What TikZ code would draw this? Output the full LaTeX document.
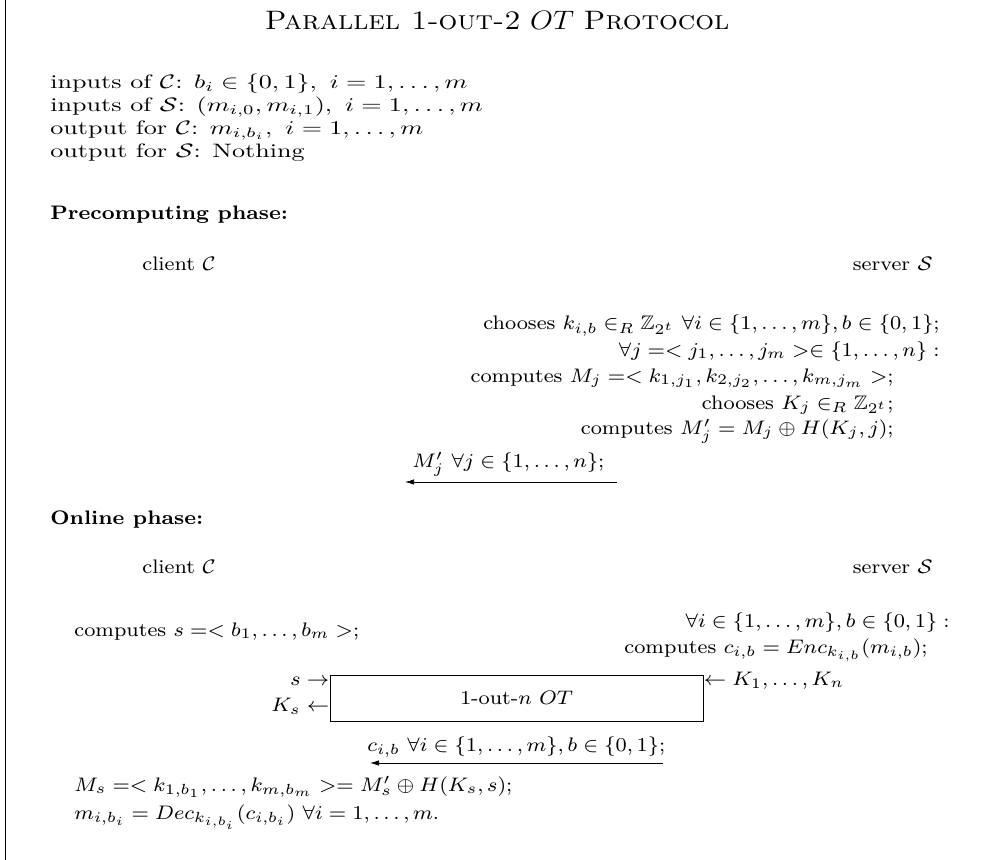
\documentclass[tikz,border=0pt]{standalone}
\usepackage{amsmath,amssymb,graphicx}
\usetikzlibrary{arrows.meta}
\newcommand{\mtx}[1]{\scalebox{1.45}[1.08]{#1}}
\newcommand{\ptx}[1]{\scalebox{1.46}[1.36]{#1}}
\tikzset{
  maintext/.style={anchor=base west,inner sep=0pt,font=\normalsize},
  phase/.style={anchor=base west,inner sep=0pt,font=\footnotesize\bfseries},
  ptext/.style={inner sep=0pt,font=\footnotesize},
  pright/.style={ptext,anchor=base east},
  pleft/.style={ptext,anchor=base west},
  msg/.style={draw,line width=0.4pt,-{Latex[length=5pt,width=3pt]}},
  otbox/.style={draw,line width=0.5pt,minimum width=207.2pt,minimum height=25.6pt,inner sep=0pt,font=\footnotesize}
}
\begin{document}
\begin{tikzpicture}[x=0.5556pt,y=-0.5556pt]
\useasboundingbox (0,0) rectangle (990,860);
\coordinate (bt) at (5.5,0);
\coordinate (bb) at (5.5,860);
\draw[line width=0.6pt] (bt) -- (bb);
\node[anchor=base,inner sep=0pt,font=\Large] (title) at (497,30) {\scalebox{1.14}[1.03]{\textsc{Parallel 1-out-2} $OT$ \textsc{Protocol}}};
\node[maintext] (in1) at (50,89) {\mtx{inputs of $\mathcal{C}$: $b_i\in\{0,1\},\ i=1,\ldots,m$}};
\node[maintext] (in2) at (50,112) {\mtx{inputs of $\mathcal{S}$: $(m_{i,0},m_{i,1}),\ i=1,\ldots,m$}};
\node[maintext] (out1) at (50,135) {\mtx{output for $\mathcal{C}$: $m_{i,b_i},\ i=1,\ldots,m$}};
\node[maintext] (out2) at (50,158) {\mtx{output for $\mathcal{S}$: Nothing}};
\node[phase] (pre) at (50,220) {\ptx{Precomputing phase:}};
\node[pleft] (cl1) at (142,271) {\ptx{client $\mathcal{C}$}};
\node[pright] (sv1) at (933,271) {\ptx{server $\mathcal{S}$}};
\node[pright] (p1) at (940,330) {\ptx{chooses $k_{i,b}\in_R\mathbb{Z}_{2^t}\ \forall i\in\{1,\ldots,m\},b\in\{0,1\}$;}};
\node[pright] (p2) at (940,356) {\ptx{$\forall j=<j_1,\ldots,j_m>\in\{1,\ldots,n\}:$}};
\node[pright] (p3) at (894,382) {\ptx{computes $M_j=<k_{1,j_1},k_{2,j_2},\ldots,k_{m,j_m}>$;}};
\node[pright] (p4) at (894,409) {\ptx{chooses $K_j\in_R\mathbb{Z}_{2^t}$;}};
\node[pright] (p5) at (894,434) {\ptx{computes $M'_j=M_j\oplus H(K_j,j)$;}};
\node[pleft] (m1) at (412,467) {\ptx{$M'_j\ \forall j\in\{1,\ldots,n\}$;}};
\coordinate (a1s) at (617,482);
\coordinate (a1e) at (405,482);
\draw[msg] (a1s) -- (a1e);
\node[phase] (onl) at (50,524) {\ptx{Online phase:}};
\node[pleft] (cl2) at (142,573) {\ptx{client $\mathcal{C}$}};
\node[pright] (sv2) at (933,573) {\ptx{server $\mathcal{S}$}};
\node[pright] (q1) at (950,627) {\ptx{$\forall i\in\{1,\ldots,m\},b\in\{0,1\}:$}};
\node[pleft] (q2) at (74,636) {\ptx{computes $s=<b_1,\ldots,b_m>$;}};
\node[pright] (q3) at (928,653) {\ptx{computes $c_{i,b}=Enc_{k_{i,b}}(m_{i,b})$;}};
\node[otbox] (ot) at (516.5,698) {\ptx{1-out-$n$ $OT$}};
\node[pright] (sin) at ([yshift=-6.1pt]ot.north west) {\ptx{$s\rightarrow$}};
\node[pright] (kout) at ([yshift=-20.6pt]ot.north west) {\ptx{$K_s\leftarrow$}};
\node[pleft] (kin) at ([yshift=-6.1pt]ot.north east) {\ptx{$\leftarrow K_1,\ldots,K_n$}};
\node[pleft] (m2) at (367,751) {\ptx{$c_{i,b}\ \forall i\in\{1,\ldots,m\},b\in\{0,1\}$;}};
\coordinate (a2s) at (663,763);
\coordinate (a2e) at (370,763);
\draw[msg] (a2s) -- (a2e);
\node[pleft] (r1) at (74,791) {\ptx{$M_s=<k_{1,b_1},\ldots,k_{m,b_m}>=M'_s\oplus H(K_s,s)$;}};
\node[pleft] (r2) at (74,819) {\ptx{$m_{i,b_i}=Dec_{k_{i,b_i}}(c_{i,b_i})\ \forall i=1,\ldots,m.$}};
\end{tikzpicture}
\end{document}
